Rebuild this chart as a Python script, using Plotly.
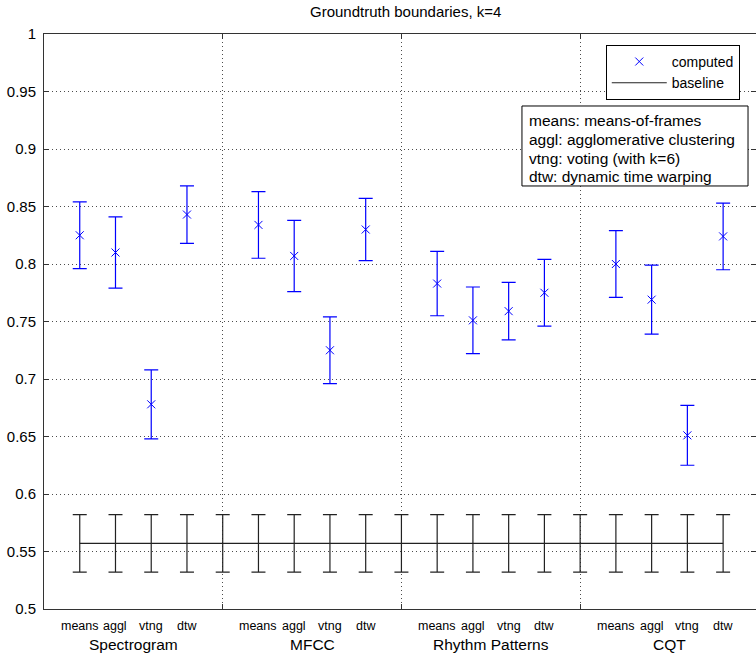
import plotly.graph_objects as go

# ---------------- data ----------------
features = ["Spectrogram", "MFCC", "Rhythm Patterns", "CQT"]
methods = ["means", "aggl", "vtng", "dtw"]

spectrogram_vals = [0.825, 0.810, 0.678, 0.843]
spectrogram_err = [0.029, 0.031, 0.030, 0.025]
mfcc_vals = [0.834, 0.807, 0.725, 0.830]
mfcc_err = [0.029, 0.031, 0.029, 0.027]
rhythm_vals = [0.783, 0.751, 0.759, 0.775]
rhythm_err = [0.028, 0.029, 0.025, 0.029]
cqt_vals = [0.800, 0.769, 0.651, 0.824]
cqt_err = [0.029, 0.030, 0.026, 0.029]

baseline_value = 0.557
baseline_err = 0.025

y_ticks = [0.5, 0.55, 0.6, 0.65, 0.7, 0.75, 0.8, 0.85, 0.9, 0.95, 1.0]
y_ticktext = ["0.5", "0.55", "0.6", "0.65", "0.7", "0.75", "0.8", "0.85", "0.9", "0.95", "1"]

legend_text = [
    "means: means-of-frames",
    "aggl: agglomerative clustering",
    "vtng: voting (with k=6)",
    "dtw: dynamic time warping",
]

# ---------------- build ----------------
all_vals = [spectrogram_vals, mfcc_vals, rhythm_vals, cqt_vals]
all_errs = [spectrogram_err, mfcc_err, rhythm_err, cqt_err]

xs, ys, es = [], [], []
for g, (vals, errs) in enumerate(zip(all_vals, all_errs)):
    for m, (v, e) in enumerate(zip(vals, errs)):
        xs.append(g * 5 + m + 1)
        ys.append(v)
        es.append(e)

n_pos = len(features) * 5 - 1
bx = list(range(1, n_pos + 1))
by = [baseline_value] * n_pos

FONT = "Liberation Sans, Arial, sans-serif"
BLUE = "#0000ff"
GRID = "rgba(0,0,0,0.7)"

fig = go.Figure()
fig.add_trace(go.Scatter(
    x=xs, y=ys, mode="markers", name="computed",
    marker=dict(symbol="x-thin", size=8, color=BLUE, line=dict(color=BLUE, width=1)),
    error_y=dict(type="data", array=es, visible=True, color=BLUE, thickness=1.2, width=7),
))
fig.add_trace(go.Scatter(
    x=bx, y=by, mode="lines", name="baseline",
    line=dict(color="#222222", width=1.2),
    error_y=dict(type="data", array=[baseline_err] * n_pos, visible=True,
                 color="#222222", thickness=1.2, width=7),
))

annotations = []
for g, feat in enumerate(features):
    for m, meth in enumerate(methods):
        annotations.append(dict(
            x=g * 5 + m + 1, y=-0.0296, xref="x", yref="paper",
            text=meth, showarrow=False, xanchor="center", yanchor="middle",
            font=dict(family=FONT, size=12.5, color="black"),
        ))
    annotations.append(dict(
        x=g * 5 + 2.5, y=-0.0626, xref="x", yref="paper",
        text=feat, showarrow=False, xanchor="center", yanchor="middle",
        font=dict(family=FONT, size=15.5, color="black"),
    ))

# description box: one text line per annotation, box drawn as a shape
box_x0, box_x1 = 0.6713, 0.9888
box_y0, box_y1 = 0.7357, 0.8748
line_ys = [0.8487, 0.8165, 0.7843, 0.7522]
for txt, ly in zip(legend_text, line_ys):
    annotations.append(dict(
        x=0.6784, y=ly, xref="paper", yref="paper",
        xanchor="left", yanchor="middle", align="left",
        text=txt, showarrow=False,
        font=dict(family=FONT, size=15.5, color="black"),
    ))

shapes = [dict(type="rect", xref="paper", yref="paper",
               x0=box_x0, x1=box_x1, y0=box_y0, y1=box_y1,
               line=dict(color="black", width=1), fillcolor="white", layer="above")]

fig.update_layout(
    width=756, height=655,
    margin=dict(l=44, r=0, t=34, b=46),
    paper_bgcolor="white", plot_bgcolor="white",
    font=dict(family=FONT, size=14, color="black"),
    title=dict(text="Groundtruth boundaries, k=4", x=0.508, xref="paper", xanchor="center",
               y=1 - 12 / 655, yanchor="middle", yref="container",
               font=dict(family=FONT, size=15, color="black")),
    showlegend=True,
    legend=dict(x=0.789, y=0.981, xanchor="left", yanchor="top",
                bordercolor="black", borderwidth=1, bgcolor="white",
                font=dict(family=FONT, size=14, color="black"),
                itemwidth=55, tracegroupgap=0),
    annotations=annotations,
    shapes=shapes,
)

fig.update_xaxes(
    range=[0, 19.92], tickvals=[0, 5, 10, 15, 20], showticklabels=False,
    ticks="inside", ticklen=5, tickcolor="#333", mirror="ticks",
    showline=True, linecolor="#333", linewidth=1,
    showgrid=True, gridcolor=GRID, griddash="1px,3px", gridwidth=1,
    zeroline=False,
)
fig.update_yaxes(
    range=[0.5, 1.0], tickvals=y_ticks, ticktext=y_ticktext,
    ticks="inside", ticklen=5, tickcolor="#333", mirror="ticks",
    showline=True, linecolor="#333", linewidth=1,
    showgrid=True, gridcolor=GRID, griddash="1px,3px", gridwidth=1,
    zeroline=False, ticklabelstandoff=4,
    tickfont=dict(family=FONT, size=15, color="black"),
)

fig.write_html("out.html")
